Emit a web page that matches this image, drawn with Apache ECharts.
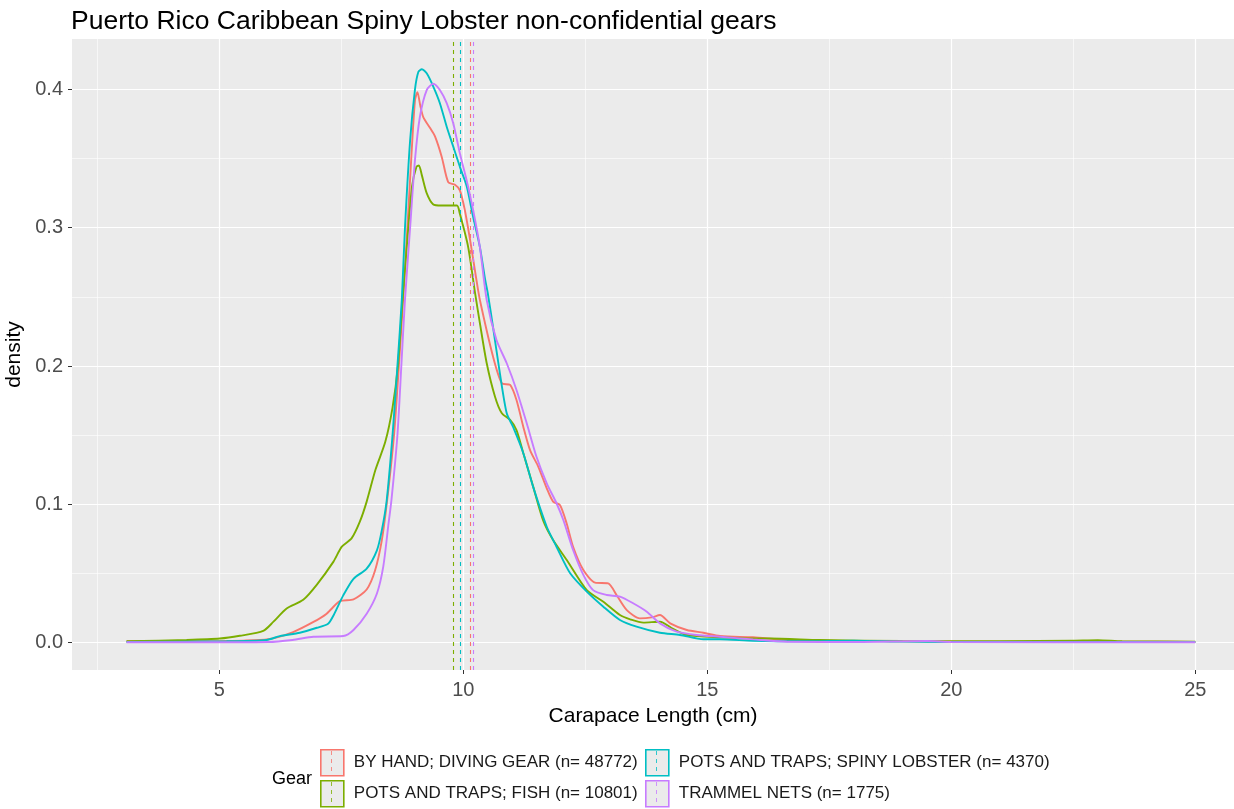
<!DOCTYPE html>
<html>
<head>
<meta charset="utf-8">
<script src="https://cdn.jsdelivr.net/npm/echarts@6/dist/echarts.min.js"></script>
<style>
html,body{margin:0;padding:0;background:#fff;}
#chart{width:1234px;height:809px;}
</style>
</head>
<body>
<div id="chart"></div>
<script>
// ---- data ----
const gearNames = [
  'BY HAND; DIVING GEAR (n= 48772)',
  'POTS AND TRAPS; FISH (n= 10801)',
  'POTS AND TRAPS; SPINY LOBSTER (n= 4370)',
  'TRAMMEL NETS (n= 1775)'
];
const gearColors = ['#F8766D', '#7CAE00', '#00BFC4', '#C77CFF'];
const gearMeans = [10.14, 9.795, 9.93, 10.21];

const byHandDiving = [
  [3.1,0.001],[4.5,0.001],[5.5,0.0015],[6.0,0.0025],[6.5,0.0075],[6.93,0.015],[7.2,0.021],[7.47,0.030],
  [7.75,0.0313],[8.02,0.0385],[8.19,0.052],[8.33,0.074],[8.44,0.103],[8.58,0.15],[8.68,0.20],[8.77,0.25],
  [8.84,0.291],[8.94,0.354],[9.01,0.392],[9.06,0.398],[9.12,0.388],[9.18,0.38],[9.32,0.372],[9.42,0.366],
  [9.56,0.351],[9.69,0.333],[9.83,0.331],[9.93,0.327],[10.03,0.313],[10.14,0.291],[10.27,0.262],[10.34,0.2477],
  [10.61,0.2067],[10.79,0.1875],[10.96,0.1863],[11.09,0.1754],[11.23,0.156],[11.37,0.139],[11.54,0.127],
  [11.71,0.1116],[11.84,0.102],[11.98,0.0995],[12.12,0.086],[12.25,0.0694],[12.46,0.0525],[12.7,0.0434],
  [12.97,0.0429],[13.14,0.0345],[13.35,0.0236],[13.62,0.0176],[13.86,0.0183],[14.03,0.02],[14.24,0.014],
  [14.58,0.0092],[14.92,0.0072],[15.26,0.0048],[15.94,0.0039],[16.63,0.002],[18,0.0012],[20,0.0008],
  [22,0.0006],[24,0.0008],[25,0.0005]
];
const potsFish = [
  [3.1,0.001],[4.33,0.002],[5.01,0.003],[5.42,0.005],[5.9,0.0085],[6.11,0.0152],[6.38,0.0248],[6.72,0.031],
  [7.0,0.042],[7.34,0.0586],[7.51,0.0694],[7.71,0.0754],[7.88,0.0875],[8.02,0.102],[8.2,0.125],[8.4,0.145],
  [8.55,0.17],[8.66,0.20],[8.75,0.245],[8.85,0.29],[8.95,0.33],[9.04,0.344],[9.09,0.345],[9.15,0.338],
  [9.25,0.325],[9.38,0.317],[9.55,0.316],[9.7,0.316],[9.87,0.316],[9.93,0.31],[10.1,0.286],[10.24,0.253],
  [10.34,0.231],[10.48,0.202],[10.65,0.1778],[10.79,0.1658],[10.96,0.161],[11.09,0.1537],[11.23,0.137],
  [11.43,0.113],[11.64,0.088],[11.84,0.0742],[12.12,0.0598],[12.53,0.038],[12.87,0.0296],[13.21,0.02],
  [13.42,0.0169],[13.69,0.0145],[14.03,0.0152],[14.3,0.01],[14.58,0.0056],[15.26,0.0039],[15.9,0.003],
  [16.28,0.003],[17.3,0.002],[19,0.0012],[21,0.001],[22.5,0.0015],[23,0.0018],[23.5,0.001],[25,0.0008]
];
const potsSpinyLobster = [
  [3.1,0.0005],[5.15,0.001],[5.97,0.002],[6.24,0.0048],[6.65,0.0072],[7.0,0.0108],[7.23,0.0137],[7.34,0.0197],
  [7.54,0.0342],[7.75,0.0462],[8.02,0.0535],[8.23,0.0668],[8.33,0.0812],[8.43,0.1028],[8.55,0.15],[8.65,0.2],
  [8.74,0.248],[8.805,0.30],[8.91,0.363],[9.01,0.40],[9.08,0.4127],[9.15,0.4145],[9.25,0.4116],[9.385,0.402],
  [9.52,0.39],[9.66,0.373],[9.795,0.3585],[9.93,0.344],[10.07,0.33],[10.2,0.308],[10.34,0.286],[10.45,0.262],
  [10.5,0.253],[10.61,0.228],[10.75,0.1947],[10.89,0.1658],[11.02,0.156],[11.23,0.137],[11.43,0.1128],
  [11.71,0.0838],[11.91,0.0694],[12.19,0.0502],[12.53,0.0369],[12.87,0.026],[13.21,0.0164],[13.55,0.0116],
  [14.03,0.0072],[14.44,0.0056],[14.92,0.0025],[15.26,0.0025],[15.94,0.0014],[17,0.001],[18,0.0015],
  [19,0.0008],[20,0.0005],[22,0.0005],[25,0.0004]
];
const trammelNets = [
  [3.1,0.0003],[5,0.0003],[6.0,0.0005],[6.5,0.002],[6.93,0.0043],[7.54,0.0048],[7.75,0.0092],[8.02,0.021],
  [8.23,0.0356],[8.36,0.055],[8.46,0.0838],[8.53,0.104],[8.65,0.15],[8.73,0.2],[8.805,0.248],[8.91,0.30],
  [9.01,0.349],[9.11,0.38],[9.25,0.3995],[9.385,0.404],[9.52,0.3995],[9.66,0.39],[9.795,0.3754],[9.93,0.3537],
  [10.07,0.334],[10.2,0.313],[10.34,0.286],[10.48,0.2477],[10.68,0.2188],[10.89,0.202],[11.09,0.1827],
  [11.3,0.1586],[11.5,0.1344],[11.71,0.1152],[11.91,0.1008],[12.05,0.0887],[12.25,0.067],[12.46,0.049],
  [12.66,0.038],[12.94,0.0345],[13.21,0.0333],[13.48,0.0285],[13.76,0.0224],[14.03,0.014],[14.37,0.008],
  [14.78,0.0056],[15.26,0.0043],[15.94,0.0024],[16.63,0.0007],[18,0.0005],[19.5,0.0012],[20,0.0005],[25,0.0003]
];
const gearData = [byHandDiving, potsFish, potsSpinyLobster, trammelNets];

const xMajorTicks = [5, 10, 15, 20, 25];
const xMinorTicks = [2.5, 7.5, 12.5, 17.5, 22.5];
const yMajorTicks = [0, 0.1, 0.2, 0.3, 0.4];
const yMinorTicks = [0.05, 0.15, 0.25, 0.35];

// ---- chart ----
const FONT = '"Liberation Sans", Arial, sans-serif';
const xMin = 1.9816, xMax = 25.793;
const yMin = -0.01973, yMax = 0.4364;
const legendPos = [[320, 749], [320, 780], [645, 749], [645, 780]];
const keyW = 23, keyH = 26;

const chart = echarts.init(document.getElementById('chart'), null, {renderer: 'canvas'});

const option = {
  animation: false,
  backgroundColor: '#FFFFFF',
  title: [
    {text: 'Puerto Rico Caribbean Spiny Lobster non-confidential gears', left: 66, top: 3,
     textStyle: {fontFamily: FONT, fontSize: 26.5, fontWeight: 'normal', color: '#000'}},
    {text: 'Gear', left: 267, top: 765,
     textStyle: {fontFamily: FONT, fontSize: 18, fontWeight: 'normal', color: '#000'}}
  ],
  grid: {left: 72, right: 0, top: 39, bottom: 139, show: true, backgroundColor: '#EBEBEB', borderWidth: 0,
         containLabel: false, outerBoundsMode: 'none'},
  legend: gearNames.map((nm, i) => ({
    data: [{name: nm, icon: 'rect',
            itemStyle: {color: '#EBEBEB', borderColor: gearColors[i], borderWidth: 1.6}}],
    left: legendPos[i][0], top: legendPos[i][1], padding: 0,
    itemWidth: keyW, itemHeight: keyH, selectedMode: false,
    textStyle: {fontFamily: FONT, fontSize: 17, color: '#1A1A1A', padding: [0, 0, 0, 5]}
  })),
  // dashed centre mark inside each legend key (the vline glyph of the key)
  graphic: gearColors.map((c, i) => ({
    type: 'line', silent: true, z: 100,
    shape: {x1: legendPos[i][0] + keyW / 2, y1: legendPos[i][1] + 2,
            x2: legendPos[i][0] + keyW / 2, y2: legendPos[i][1] + keyH - 2},
    style: {stroke: c, lineWidth: 1, lineDash: [4, 4], opacity: 0.8}
  })),
  xAxis: [
    {type: 'value', min: xMin, max: xMax, gridIndex: 0,
     axisLine: {show: false, onZero: false},
     axisTick: {show: true, length: 4, lineStyle: {color: '#333333', width: 1}, customValues: xMajorTicks},
     axisLabel: {customValues: xMajorTicks, fontFamily: FONT, fontSize: 20, color: '#4D4D4D', margin: 10},
     splitLine: {show: true, lineStyle: {color: '#FFFFFF', width: 1.2}},
     name: 'Carapace Length (cm)', nameLocation: 'middle', nameGap: 36,
     nameTextStyle: {fontFamily: FONT, fontSize: 21, color: '#000'}},
    {type: 'value', min: xMin, max: xMax, gridIndex: 0, position: 'bottom',
     axisLine: {show: false, onZero: false},
     axisTick: {show: false, customValues: xMinorTicks},
     axisLabel: {show: false, customValues: xMinorTicks},
     splitLine: {show: true, lineStyle: {color: '#FFFFFF', width: 0.6}}}
  ],
  yAxis: [
    {type: 'value', min: yMin, max: yMax, gridIndex: 0,
     axisLine: {show: false, onZero: false},
     axisTick: {show: true, length: 4, lineStyle: {color: '#333333', width: 1}, customValues: yMajorTicks},
     axisLabel: {customValues: yMajorTicks, fontFamily: FONT, fontSize: 20, color: '#4D4D4D', margin: 9,
                 formatter: v => v.toFixed(1)},
     splitLine: {show: true, lineStyle: {color: '#FFFFFF', width: 1.2}},
     name: 'density', nameLocation: 'middle', nameGap: 44, nameRotate: 90,
     nameTextStyle: {fontFamily: FONT, fontSize: 21, color: '#000'}},
    {type: 'value', min: yMin, max: yMax, gridIndex: 0, position: 'left',
     axisLine: {show: false, onZero: false},
     axisTick: {show: false, customValues: yMinorTicks},
     axisLabel: {show: false, customValues: yMinorTicks},
     splitLine: {show: true, lineStyle: {color: '#FFFFFF', width: 0.6}}}
  ],
  series: gearData.map((d, i) => ({
    name: gearNames[i],
    type: 'line',
    xAxisIndex: 0, yAxisIndex: 0,
    data: d,
    showSymbol: false,
    smooth: 0.25,
    color: gearColors[i],
    lineStyle: {color: gearColors[i], width: 1.9},
    z: 3 + i,
    markLine: {
      silent: true,
      symbol: ['none', 'none'],
      label: {show: false},
      lineStyle: {color: gearColors[i], type: [4, 4], width: 1.1, opacity: 1},
      data: [{xAxis: gearMeans[i]}]
    }
  }))
};
chart.setOption(option);
</script>
</body>
</html>
